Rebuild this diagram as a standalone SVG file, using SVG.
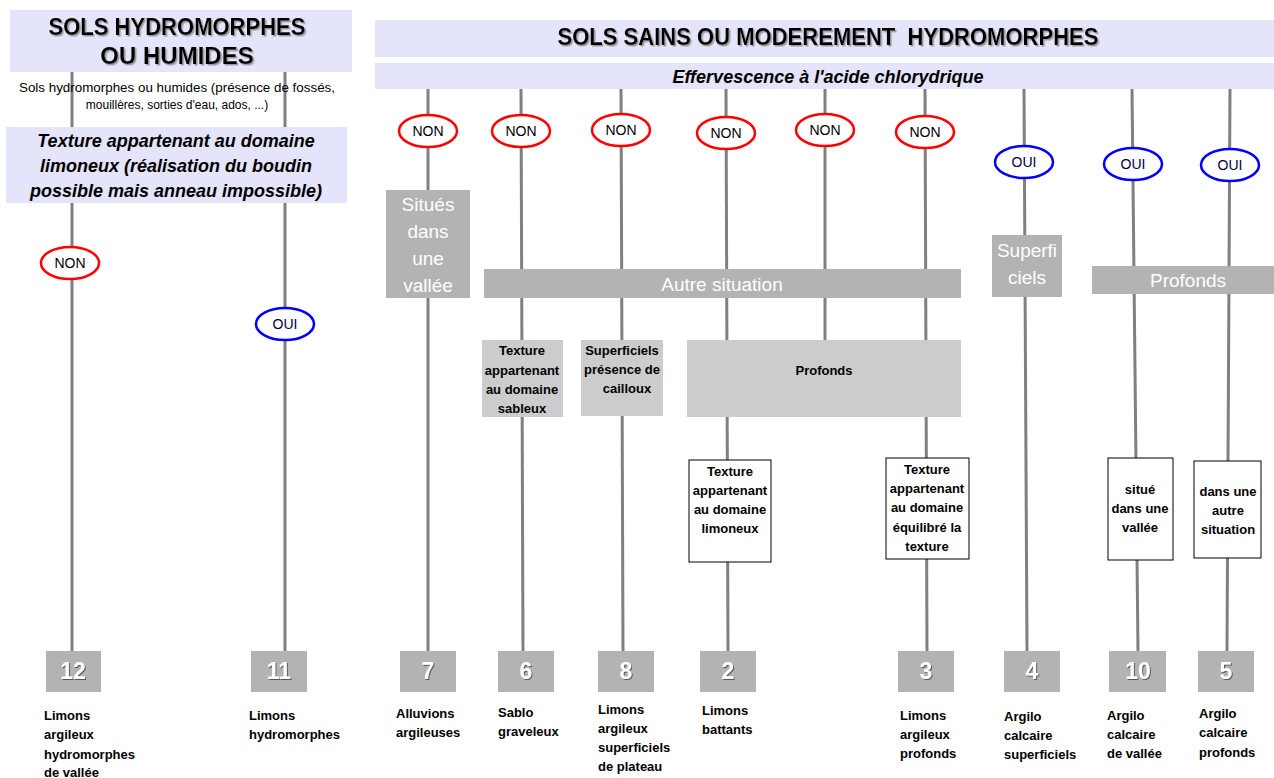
<svg xmlns="http://www.w3.org/2000/svg" width="1274" height="778" viewBox="0 0 1274 778">
<defs>
<filter id="sh" x="-5%" y="-20%" width="110%" height="150%"><feDropShadow dx="1.5" dy="1.5" stdDeviation="0.6" flood-color="#999"/></filter>
<filter id="sh2" x="-20%" y="-20%" width="150%" height="150%"><feDropShadow dx="1" dy="1" stdDeviation="0.5" flood-color="#555"/></filter>
</defs>
<style>
text{font-family:"Liberation Sans",Arial,sans-serif}
.hdr{fill:#e4e4fa}
.ln{stroke:#808080;stroke-width:3;fill:none}
.non{fill:#fff;stroke:#f00;stroke-width:2.5}
.oui{fill:#fff;stroke:#00f;stroke-width:2.5}
.et{font-size:14px;text-anchor:middle;fill:#000}
.ouit{font-size:14px;text-anchor:middle;fill:#000040}
.dg{fill:#b3b3b3}
.lg{fill:#cccccc}
.wb{fill:#fff;stroke:#000;stroke-width:1}
.wt{font-size:19px;fill:#fff;text-anchor:middle}
.bt{font-size:13px;font-weight:bold;fill:#000;text-anchor:middle}
.nb{fill:#b3b3b3}
.nt{font-size:23px;font-weight:bold;fill:#fff;text-anchor:middle}
.lab{font-size:13px;font-weight:bold;fill:#000}
.ttl{font-size:24px;font-weight:bold;fill:#000;text-anchor:middle}
.it{font-size:18px;font-weight:bold;font-style:italic;fill:#000;text-anchor:middle}
</style>
<rect width="1274" height="778" fill="#fff"/>
<g id="connectors">
<line class="ln" x1="72" y1="72" x2="72" y2="651"/>
<line class="ln" x1="285" y1="72" x2="285" y2="651"/>
<line class="ln" x1="428" y1="89" x2="428" y2="651"/>
<line class="ln" x1="521" y1="89" x2="523" y2="651"/>
<line class="ln" x1="621" y1="89" x2="623" y2="651"/>
<line class="ln" x1="726" y1="89" x2="728" y2="651"/>
<line class="ln" x1="825" y1="89" x2="825" y2="340"/>
<line class="ln" x1="925" y1="89" x2="927" y2="651"/>
<line class="ln" x1="1024" y1="89" x2="1027" y2="651"/>
<line class="ln" x1="1132" y1="89" x2="1138" y2="651"/>
<line class="ln" x1="1230" y1="89" x2="1227" y2="651"/>
</g>
<g id="header-left">
<rect class="hdr" x="10" y="10" width="342" height="62"/>
<text class="ttl" x="177" y="35" filter="url(#sh)" textLength="257" lengthAdjust="spacingAndGlyphs">SOLS HYDROMORPHES</text>
<text class="ttl" x="177" y="64" filter="url(#sh)">OU HUMIDES</text>
</g>
<g id="subtitle-left">
<text x="177" y="92" font-size="12" text-anchor="middle" textLength="316" lengthAdjust="spacingAndGlyphs">Sols hydromorphes ou humides (présence de fossés,</text>
<text x="177" y="109" font-size="12" text-anchor="middle">mouillères, sorties d'eau, ados, ...)</text>
</g>
<g id="texture-left">
<rect class="hdr" x="6" y="127" width="341" height="76"/>
<text class="it" x="176" y="147">Texture appartenant au domaine</text>
<text class="it" x="176" y="172">limoneux (réalisation du boudin</text>
<text class="it" x="176" y="197">possible mais anneau impossible)</text>
</g>
<g id="header-right">
<rect class="hdr" x="375" y="20" width="899" height="37"/>
<text x="828" y="45" font-size="23" font-weight="bold" text-anchor="middle" filter="url(#sh)" textLength="541" lengthAdjust="spacingAndGlyphs" xml:space="preserve">SOLS SAINS OU MODEREMENT  HYDROMORPHES</text>
</g>
<g id="effervescence">
<rect class="hdr" x="375" y="63" width="899" height="26"/>
<text x="828" y="83" font-size="18" font-weight="bold" font-style="italic" text-anchor="middle">Effervescence à l'acide chlorydrique</text>
</g>
<g id="non-1"><ellipse class="non" cx="70" cy="263" rx="29" ry="16"/><text class="et" x="70" y="268">NON</text></g>
<g id="oui-1"><ellipse class="oui" cx="285" cy="324" rx="29" ry="16"/><text class="ouit" x="285" y="329">OUI</text></g>
<g id="non-2"><ellipse class="non" cx="428" cy="131" rx="29" ry="16"/><text class="et" x="428" y="136">NON</text></g>
<g id="non-3"><ellipse class="non" cx="521" cy="131" rx="29" ry="16"/><text class="et" x="521" y="136">NON</text></g>
<g id="non-4"><ellipse class="non" cx="621" cy="130" rx="29" ry="16"/><text class="et" x="621" y="135">NON</text></g>
<g id="non-5"><ellipse class="non" cx="726" cy="133" rx="29" ry="16"/><text class="et" x="726" y="138">NON</text></g>
<g id="non-6"><ellipse class="non" cx="825" cy="130" rx="29" ry="16"/><text class="et" x="825" y="135">NON</text></g>
<g id="non-7"><ellipse class="non" cx="925" cy="132" rx="29" ry="16"/><text class="et" x="925" y="137">NON</text></g>
<g id="oui-2"><ellipse class="oui" cx="1024" cy="162" rx="29" ry="16"/><text class="ouit" x="1024" y="167">OUI</text></g>
<g id="oui-3"><ellipse class="oui" cx="1133" cy="164" rx="29" ry="16"/><text class="ouit" x="1133" y="169">OUI</text></g>
<g id="oui-4"><ellipse class="oui" cx="1230" cy="165" rx="29" ry="16"/><text class="ouit" x="1230" y="170">OUI</text></g>
<g id="situes-vallee">
<rect class="dg" x="386" y="190" width="84" height="108"/>
<text class="wt" x="428" y="211">Situés</text>
<text class="wt" x="428" y="238">dans</text>
<text class="wt" x="428" y="265">une</text>
<text class="wt" x="428" y="292">vallée</text>
</g>
<g id="autre-situation">
<rect class="dg" x="484" y="269" width="477" height="29"/>
<text class="wt" x="722" y="291">Autre situation</text>
</g>
<g id="superficiels-oui">
<rect class="dg" x="992" y="235" width="70" height="62"/>
<text class="wt" x="1027" y="257">Superfi</text>
<text class="wt" x="1027" y="284">ciels</text>
</g>
<g id="profonds-oui">
<rect class="dg" x="1092" y="266" width="182" height="28"/>
<text class="wt" x="1188" y="287">Profonds</text>
</g>
<g id="sableux">
<rect class="lg" x="482" y="340" width="81" height="77"/>
<text class="bt" x="522" y="355">Texture</text>
<text class="bt" x="522" y="375">appartenant</text>
<text class="bt" x="522" y="394">au domaine</text>
<text class="bt" x="522" y="413">sableux</text>
</g>
<g id="cailloux">
<rect class="lg" x="581" y="340" width="82" height="76"/>
<text class="bt" x="622" y="355">Superficiels</text>
<text class="bt" x="622" y="374">présence de</text>
<text class="bt" x="627" y="393">cailloux</text>
</g>
<g id="profonds">
<rect class="lg" x="687" y="340" width="274" height="77"/>
<text class="bt" x="824" y="375">Profonds</text>
</g>
<g id="limoneux">
<rect class="wb" x="689" y="460" width="82" height="102"/>
<text class="bt" x="730" y="476">Texture</text>
<text class="bt" x="730" y="495">appartenant</text>
<text class="bt" x="730" y="514">au domaine</text>
<text class="bt" x="730" y="533">limoneux</text>
</g>
<g id="equilibre">
<rect class="wb" x="886" y="458" width="83" height="101"/>
<text class="bt" x="927" y="474">Texture</text>
<text class="bt" x="927" y="493">appartenant</text>
<text class="bt" x="927" y="512">au domaine</text>
<text class="bt" x="927" y="532">équilibré la</text>
<text class="bt" x="927" y="551">texture</text>
</g>
<g id="situe-vallee">
<rect class="wb" x="1108" y="458" width="65" height="102"/>
<text class="bt" x="1140" y="494">situé</text>
<text class="bt" x="1140" y="513">dans une</text>
<text class="bt" x="1140" y="532">vallée</text>
</g>
<g id="autre-sit">
<rect class="wb" x="1194" y="461" width="67" height="97"/>
<text class="bt" x="1228" y="496">dans une</text>
<text class="bt" x="1228" y="515">autre</text>
<text class="bt" x="1228" y="534">situation</text>
</g>
<g id="n12"><rect class="nb" x="46" y="651" width="55" height="41"/><text class="nt" x="73" y="679" filter="url(#sh2)">12</text>
<text class="lab" x="44" y="720">Limons</text><text class="lab" x="44" y="739">argileux</text><text class="lab" x="44" y="759">hydromorphes</text><text class="lab" x="44" y="777">de vallée</text></g>
<g id="n11"><rect class="nb" x="251" y="651" width="56" height="41"/><text class="nt" x="279" y="679" filter="url(#sh2)">11</text>
<text class="lab" x="249" y="720">Limons</text><text class="lab" x="249" y="739">hydromorphes</text></g>
<g id="n7"><rect class="nb" x="400" y="651" width="56" height="41"/><text class="nt" x="428" y="679" filter="url(#sh2)">7</text>
<text class="lab" x="396" y="718">Alluvions</text><text class="lab" x="396" y="737">argileuses</text></g>
<g id="n6"><rect class="nb" x="498" y="651" width="56" height="41"/><text class="nt" x="526" y="679" filter="url(#sh2)">6</text>
<text class="lab" x="498" y="717">Sablo</text><text class="lab" x="498" y="736">graveleux</text></g>
<g id="n8"><rect class="nb" x="598" y="651" width="56" height="41"/><text class="nt" x="626" y="679" filter="url(#sh2)">8</text>
<text class="lab" x="598" y="714">Limons</text><text class="lab" x="598" y="733">argileux</text><text class="lab" x="598" y="752">superficiels</text><text class="lab" x="598" y="771">de plateau</text></g>
<g id="n2"><rect class="nb" x="700" y="651" width="56" height="41"/><text class="nt" x="728" y="679" filter="url(#sh2)">2</text>
<text class="lab" x="702" y="715">Limons</text><text class="lab" x="702" y="734">battants</text></g>
<g id="n3"><rect class="nb" x="898" y="651" width="56" height="41"/><text class="nt" x="926" y="679" filter="url(#sh2)">3</text>
<text class="lab" x="900" y="720">Limons</text><text class="lab" x="900" y="739">argileux</text><text class="lab" x="900" y="758">profonds</text></g>
<g id="n4"><rect class="nb" x="1004" y="651" width="56" height="41"/><text class="nt" x="1032" y="679" filter="url(#sh2)">4</text>
<text class="lab" x="1004" y="721">Argilo</text><text class="lab" x="1004" y="740">calcaire</text><text class="lab" x="1004" y="759">superficiels</text></g>
<g id="n10"><rect class="nb" x="1109" y="651" width="57" height="41"/><text class="nt" x="1138" y="679" filter="url(#sh2)">10</text>
<text class="lab" x="1107" y="720">Argilo</text><text class="lab" x="1107" y="739">calcaire</text><text class="lab" x="1107" y="758">de vallée</text></g>
<g id="n5"><rect class="nb" x="1198" y="651" width="56" height="41"/><text class="nt" x="1226" y="679" filter="url(#sh2)">5</text>
<text class="lab" x="1199" y="718">Argilo</text><text class="lab" x="1199" y="737">calcaire</text><text class="lab" x="1199" y="757">profonds</text></g>
</svg>
